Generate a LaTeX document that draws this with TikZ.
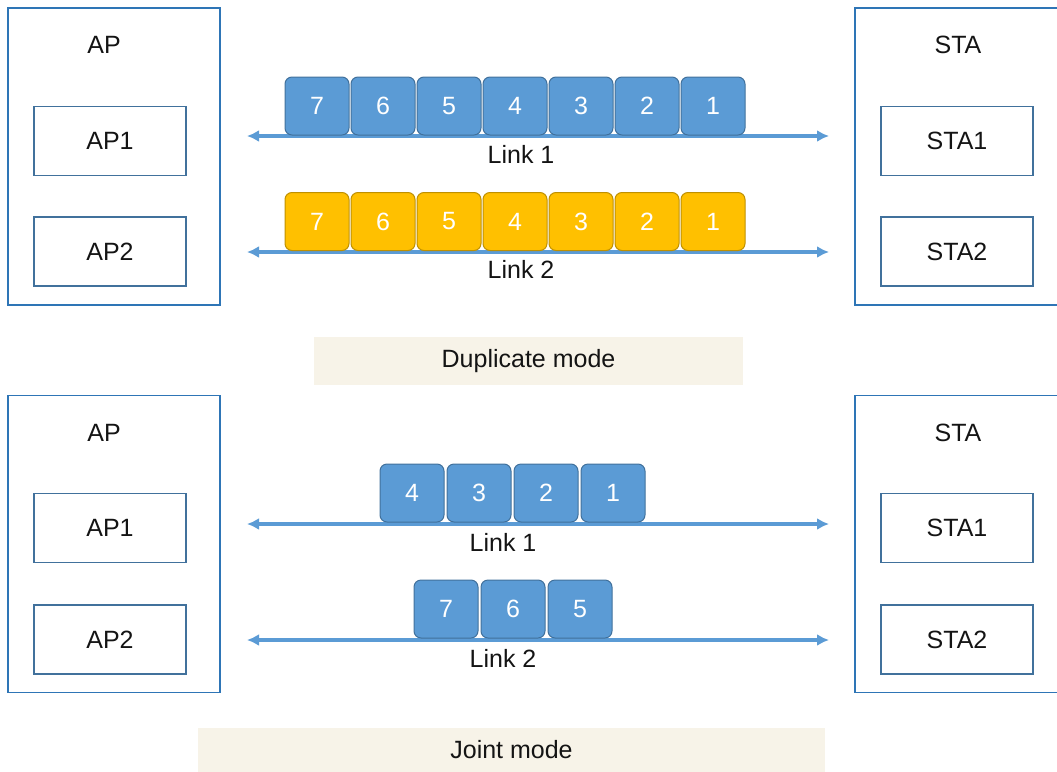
\documentclass[tikz,border=0pt]{standalone}
\usepackage{fontspec}
\setmainfont{Liberation Sans}
\usetikzlibrary{arrows.meta,positioning}
\definecolor{outerblue}{HTML}{2E75B6}
\definecolor{innerblue}{HTML}{41719C}
\definecolor{pktblue}{HTML}{5B9BD5}
\definecolor{pktblueline}{HTML}{41719C}
\definecolor{pktyellow}{HTML}{FFC000}
\definecolor{pktyellowline}{HTML}{BF9000}
\definecolor{bandfill}{HTML}{F7F3E8}
\definecolor{txt}{HTML}{141414}
\begin{document}
\begin{tikzpicture}[x=1pt,y=-1pt,
  every node/.style={font=\fontsize{25}{29}\selectfont, text=txt},
  outerbox/.style={draw=outerblue, line width=1.6pt, minimum width=212pt, minimum height=297pt, inner sep=0pt},
  innerbox/.style={draw=innerblue, line width=1.3pt, minimum width=152pt, minimum height=69pt, inner sep=0pt},
  pkt/.style={rounded corners=7pt, line width=1pt, minimum width=64pt, minimum height=58pt, inner sep=0pt, text=white},
  bluepkt/.style={pkt, fill=pktblue, draw=pktblueline},
  yellowpkt/.style={pkt, fill=pktyellow, draw=pktyellowline},
  linkarrow/.style={draw=pktblue, line width=3.2pt, {Latex[length=12pt,width=12pt]}-{Latex[length=12pt,width=12pt]}},
  band/.style={fill=bandfill, inner sep=0pt}
]
\useasboundingbox (0,0) rectangle (1057,771);

% ===== Duplicate mode =====
\node[outerbox] (apT) at (114,156.5) {};
\node (apTl) at (104,45) {AP};
\node[innerbox] (ap1T) at (110,141) {AP1};
\node[innerbox] (ap2T) at (110,251.5) {AP2};

\node[outerbox] (staT) at (961,156.5) {};
\node (staTl) at (958,45) {STA};
\node[innerbox] (sta1T) at (957,141) {STA1};
\node[innerbox] (sta2T) at (957,251.5) {STA2};

\coordinate (l1Tl) at (247,136);
\coordinate (l1Tr) at (829,136);
\coordinate (l2Tl) at (247,252);
\coordinate (l2Tr) at (829,252);

\draw[linkarrow] (l1Tl) -- (l1Tr);
\draw[linkarrow] (l2Tl) -- (l2Tr);
\foreach \n [count=\i from 0] in {7,6,5,4,3,2,1} {
  \node[bluepkt] (bT\n) at (317+66*\i,106) {\n};
  \node[yellowpkt] (yT\n) at (317+66*\i,221.5) {\n};
}
\node (lk1T) at (521,154) {Link 1};
\node (lk2T) at (521,269) {Link 2};

\node[band, minimum width=429pt, minimum height=48pt] (dup) at (528.5,361) {Duplicate mode};

% ===== Joint mode =====
\node[outerbox] (apB) at (114,544) {};
\node (apBl) at (104,433) {AP};
\node[innerbox] (ap1B) at (110,528) {AP1};
\node[innerbox] (ap2B) at (110,639.5) {AP2};

\node[outerbox] (staB) at (961,544) {};
\node (staBl) at (958,433) {STA};
\node[innerbox] (sta1B) at (957,528) {STA1};
\node[innerbox] (sta2B) at (957,639.5) {STA2};

\coordinate (l1Bl) at (247,524);
\coordinate (l1Br) at (829,524);
\coordinate (l2Bl) at (247,640);
\coordinate (l2Br) at (829,640);

\draw[linkarrow] (l1Bl) -- (l1Br);
\draw[linkarrow] (l2Bl) -- (l2Br);
\foreach \n [count=\i from 0] in {4,3,2,1} {
  \node[bluepkt] (bB\n) at (412+67*\i,493) {\n};
}
\foreach \n [count=\i from 0] in {7,6,5} {
  \node[bluepkt] (cB\n) at (446+67*\i,609) {\n};
}
\node (lk1B) at (503,542) {Link 1};
\node (lk2B) at (503,658) {Link 2};

\node[band, minimum width=627pt, minimum height=44pt] (joint) at (511.5,750) {Joint mode};
\end{tikzpicture}
\end{document}
